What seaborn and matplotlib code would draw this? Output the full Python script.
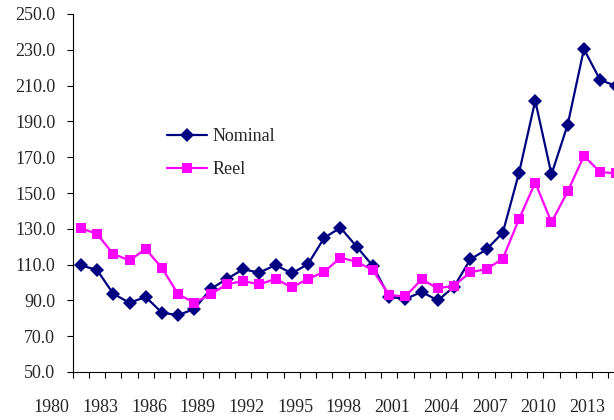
import numpy as np
import pandas as pd
import matplotlib
matplotlib.use("Agg")
import matplotlib.pyplot as plt
import matplotlib.transforms as mtransforms
import seaborn as sns

# values
years = list(range(1982, 2016))
nominal = [109.6, 107.0, 93.7, 88.7, 91.9, 83.1, 81.8, 85.2, 96.4, 102.0,
           107.4, 105.5, 109.8, 105.1, 110.3, 125.0, 130.6, 120.0, 109.2, 92.0,
           90.8, 94.7, 90.0, 97.7, 112.9, 118.5, 127.8, 161.2, 201.6, 160.4,
           188.2, 230.4, 213.1, 209.8]
reel = [130.4, 127.1, 115.9, 112.4, 118.7, 108.1, 93.4, 88.7, 93.4, 99.0,
        100.8, 99.0, 102.0, 97.3, 102.0, 106.0, 113.9, 111.6, 106.8, 93.0,
        92.2, 101.8, 96.7, 98.3, 105.7, 107.5, 113.3, 135.4, 155.8, 133.6,
        150.9, 170.7, 161.7, 161.0]
label_years = [1980, 1983, 1986, 1989, 1992, 1995, 1998, 2001, 2004, 2007, 2010, 2013]
y_ticks = [50, 70, 90, 110, 130, 150, 170, 190, 210, 230, 250]

df = pd.DataFrame({
    "year": years * 2,
    "value": nominal + reel,
    "serie": ["Nominal"] * len(years) + ["Reel"] * len(years),
})

sns.set_style("ticks")
plt.rcParams["font.family"] = ["Liberation Serif", "DejaVu Serif"]

fig = plt.figure(figsize=(6.14, 4.2), dpi=100)
ax = fig.add_axes([72.7 / 614, 48 / 420, 551.8 / 614, 358 / 420])

colors = {"Nominal": "#000080", "Reel": "#FF00FF"}
sns.lineplot(data=df, x="year", y="value", hue="serie", style="serie",
             palette=colors, markers={"Nominal": "D", "Reel": "s"},
             dashes=False, linewidth=1.6, markersize=7, markeredgewidth=0,
             ax=ax)

ax.set_xlim(years[0] - 0.5, years[-1] + 0.5)
ax.set_ylim(50, 250)
ax.set_yticks(y_ticks)
ax.set_yticklabels([f"{v:.1f}" for v in y_ticks], fontsize=13)
ax.set_xticks(np.arange(years[0] - 0.5, years[-1] + 1, 1.0))
ax.set_xticklabels([])
ax.tick_params(axis="both", direction="out", length=4.5, width=0.8, color="black")
ax.tick_params(axis="y", pad=8)
ax.set_xlabel("")
ax.set_ylabel("")
sns.despine(ax=ax)
for s in ["left", "bottom"]:
    ax.spines[s].set_linewidth(0.8)
    ax.spines[s].set_color("black")

# year labels every third year (first one sits left of the axis)
trans = mtransforms.blended_transform_factory(ax.transData, ax.transAxes)
for yr in label_years:
    ax.text(yr + 0.2, -0.1, str(yr), transform=trans, ha="center", va="center",
            fontsize=13, clip_on=False)

leg = ax.get_legend()
handles = leg.legend_handles
labels = [t.get_text() for t in leg.texts]
ax.legend(handles, labels, loc="upper left",
          bbox_to_anchor=(167 / 614, 1 - 128 / 420), bbox_transform=fig.transFigure,
          frameon=False, fontsize=13, borderpad=0, borderaxespad=0,
          handlelength=2.2, handletextpad=0.3, labelspacing=0.9)

fig.savefig("out.png", dpi=100)
